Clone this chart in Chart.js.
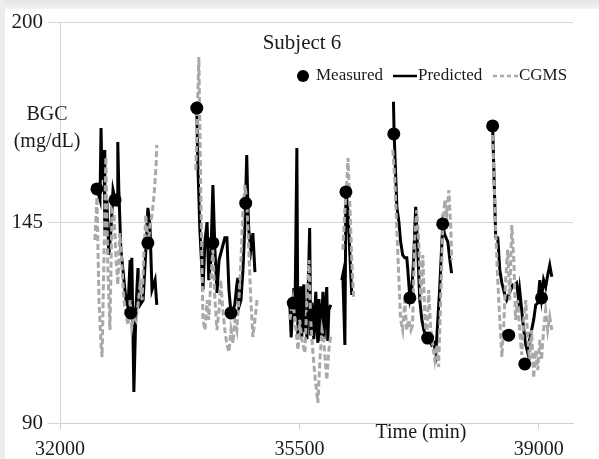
<!DOCTYPE html>
<html>
<head>
<meta charset="utf-8">
<script src="https://cdn.jsdelivr.net/npm/chart.js@4.4.1/dist/chart.umd.min.js"></script>
<style>
  html, body { margin: 0; padding: 0; background: #fff; }
  canvas { display: block; }
</style>
</head>
<body>
<canvas id="bgc-chart" width="599" height="459"></canvas>
<script>
// values (time in min, BGC in mg/dL); null = gap between runs
var measuredT = [32540, 32805, 33035, 33285, 34000, 34235, 34500, 34715, 35410, 35695, 36180, 36880, 37115, 37375, 37595, 38325, 38560, 38795, 39040];
var measuredV = [154.2, 151.2, 120.2, 139.4, 176.4, 139.4, 120.2, 150.3, 122.9, 119.6, 153.4, 169.3, 124.3, 113.3, 144.6, 171.5, 114.1, 106.2, 124.3];

var predT = [
  32510, 32540, 32585, 32600, 32615, 32630, 32645, 32655, 32685, 32715, 32745, 32775, 32805, 32835, 32845, 32860, 32890, 32920, 32965, 32995, 33025, 33035, 33050, 33080, 33110, 33140, 33170, 33215, 33255, 33285, 33315, 33345, 33390, 33415,
  33700,
  34000, 34015, 34045, 34090, 34120, 34150, 34175, 34205, 34235, 34265, 34295, 34325, 34410, 34440, 34470, 34500, 34530, 34555, 34585, 34600, 34615, 34645, 34675, 34705, 34730, 34745, 34760, 34790, 34820, 34850,
  35100,
  35360, 35380, 35405, 35420, 35435, 35463, 35478, 35490, 35505, 35520, 35535, 35550, 35565, 35580, 35595, 35610, 35625, 35650, 35665, 35680, 35695, 35710, 35725, 35740, 35755, 35770, 35785, 35800, 35815, 35830, 35845, 35860, 35875, 35900, 35915, 35930, 35960,
  36040,
  36120, 36135, 36165, 36180, 36210, 36235, 36265,
  36550,
  36875, 36885, 36925, 36955, 36980, 37010, 37040, 37070, 37085, 37115, 37145, 37170, 37200, 37230, 37260, 37290, 37320, 37345, 37375, 37405, 37435, 37465, 37495, 37550, 37595, 37625, 37670, 37700, 37725,
  38000,
  38325, 38370, 38400, 38430, 38460, 38485, 38515, 38530, 38560, 38590, 38620, 38650, 38675, 38705, 38720, 38750, 38780, 38810, 38840, 38865, 38895, 38925, 38955, 38985, 39015, 39040, 39070, 39100, 39130, 39160, 39190
];
var predV = [
  153.9, 154.2, 151.2, 170.9, 156.7, 160.8, 164.9, 142.9, 151.2, 136.1, 142.9, 153.9, 151.2, 149.8, 167.1, 153.9, 137.5, 132.0, 123.7, 121.8, 134.7, 120.2, 135.3, 98.5, 121.0, 132.5, 122.4, 123.7, 137.5, 149.0, 144.3, 126.5, 129.2, 122.4,
  null,
  176.4, 161.3, 142.9, 126.5, 140.2, 145.1, 129.2, 134.7, 155.3, 137.5, 125.7, 134.7, 140.8, 140.8, 126.5, 120.2, 121.0, 122.4, 127.9, 129.8, 121.8, 123.7, 132.0, 145.1, 163.5, 151.2, 142.9, 137.5, 142.1, 131.4,
  null,
  122.4, 113.5, 122.9, 127.0, 119.0, 165.4, 113.0, 124.5, 118.0, 127.5, 113.5, 124.0, 128.0, 115.0, 121.0, 113.0, 124.0, 143.5, 114.0, 123.0, 119.6, 113.0, 121.0, 126.0, 116.0, 112.0, 124.0, 119.6, 112.5, 121.0, 126.0, 113.0, 120.0, 127.3, 112.5, 121.0, 122.4,
  null,
  129.2, 130.6, 111.4, 153.9, 148.4, 137.5, 125.1,
  null,
  178.1, 169.3, 149.3, 145.1, 139.7, 136.1, 135.3, 135.3, 132.0, 124.3, 127.3, 134.7, 149.3, 137.5, 123.7, 118.3, 115.5, 114.1, 113.3, 112.8, 111.4, 111.9, 109.2, 126.5, 144.3, 141.6, 139.7, 134.7, 131.1,
  null,
  171.5, 141.0, 140.8, 132.0, 128.4, 126.5, 124.3, 123.7, 125.1, 126.5, 127.9, 127.9, 128.4, 123.7, 126.5, 121.0, 115.5, 111.4, 109.2, 112.8, 115.5, 118.3, 122.4, 122.9, 129.2, 124.3, 129.2, 127.3, 130.6, 133.3, 130.1
];

var cgmsT = [
  32510, 32540, 32570, 32600, 32615, 32645, 32670, 32700, 32730, 32760, 32790, 32820, 32845, 32875, 32905, 32935, 32965, 32995, 33025, 33050, 33080, 33110, 33140, 33170, 33200, 33225, 33255, 33285, 33315, 33345, 33375, 33405, 33415,
  33700,
  33985, 34030, 34060, 34090, 34120, 34150, 34175, 34205, 34235, 34265, 34295, 34325, 34350, 34380, 34410, 34440, 34470, 34500, 34530, 34555, 34585, 34615, 34645, 34675, 34705, 34730, 34760, 34790, 34820, 34850, 34880,
  35100,
  35360, 35405, 35450, 35480, 35505, 35535, 35580, 35610, 35640, 35665, 35695, 35725, 35770, 35800, 35830, 35855, 35900, 35930, 35960,
  36040,
  36135, 36165, 36195, 36210, 36235, 36265, 36295,
  36550,
  36865, 36895, 36925, 36955, 36980, 37010, 37040, 37070, 37100, 37130, 37155, 37185, 37215, 37245, 37275, 37305, 37335, 37360, 37390, 37420, 37450, 37480, 37510, 37535, 37565, 37595, 37625, 37655, 37685, 37715, 37725,
  38000,
  38325, 38370, 38400, 38430, 38460, 38485, 38515, 38545, 38575, 38605, 38635, 38660, 38690, 38720, 38750, 38780, 38810, 38840, 38865, 38895, 38925, 38955, 38985, 39015, 39040, 39070, 39100, 39130, 39160, 39190
];
var cgmsV = [
  140.2, 152.0, 123.7, 111.4, 108.1, 137.5, 163.0, 132.0, 115.5, 148.4, 147.1, 134.7, 127.9, 142.1, 133.3, 123.7, 119.6, 116.9, 123.7, 116.1, 119.6, 118.3, 122.4, 127.9, 123.7, 136.1, 147.1, 137.5, 144.3, 147.1, 152.5, 160.8, 166.3,
  null,
  159.4, 190.4, 151.2, 118.3, 115.5, 123.7, 118.3, 129.2, 137.5, 123.7, 115.5, 121.0, 129.2, 121.0, 115.5, 111.4, 109.5, 115.5, 111.9, 118.3, 115.5, 123.7, 134.7, 148.4, 155.3, 151.2, 137.5, 123.7, 113.6, 118.3, 123.7,
  null,
  118.3, 123.7, 115.5, 110.0, 118.3, 112.8, 109.2, 123.7, 134.7, 118.3, 110.0, 103.2, 95.5, 107.3, 115.5, 112.8, 101.8, 110.0, 114.1,
  null,
  137.5, 148.4, 156.7, 162.7, 151.2, 134.7, 123.7,
  null,
  164.9, 156.7, 142.9, 129.2, 118.3, 115.5, 123.7, 115.5, 118.3, 115.5, 116.9, 140.2, 148.4, 140.2, 123.7, 136.1, 118.3, 112.8, 126.5, 115.5, 111.4, 107.3, 111.4, 105.4, 123.7, 142.9, 151.2, 147.1, 153.9, 142.9, 134.7,
  null,
  169.0, 142.9, 129.2, 118.3, 108.1, 115.5, 129.2, 137.5, 123.7, 144.3, 134.7, 118.3, 123.7, 115.5, 108.7, 118.3, 123.7, 112.8, 107.3, 115.5, 102.3, 110.0, 104.5, 112.8, 107.3, 115.5, 121.0, 115.5, 119.1, 115.5
];

var xTicks = [32000, 35500, 39000];
var yTicks = [90, 145, 200];

var serif = '"Liberation Serif", "Times New Roman", serif';

function toPoints(ts, vs) {
  var out = [];
  for (var i = 0; i < ts.length; i++) {
    out.push({x: ts[i], y: vs[i]});
  }
  return out;
}

// white sheet with the grey screenshot edge
var frame = {
  id: 'frame',
  beforeDraw: function(chart) {
    var c = chart.ctx;
    c.save();
    c.fillStyle = '#fff';
    c.fillRect(0, 0, chart.width, chart.height);
    var g = c.createLinearGradient(0, 0, 0, 9);
    g.addColorStop(0, '#e4e4e4');
    g.addColorStop(1, '#f3f3f3');
    c.fillStyle = g;
    c.fillRect(0, 0, chart.width, 9);
    c.fillStyle = '#ededed';
    c.fillRect(0, 0, 5, chart.height);
    c.restore();
  }
};

// title, legend and axis titles sit inside the plot like the original
var labels = {
  id: 'labels',
  afterDraw: function(chart) {
    var c = chart.ctx;
    c.save();
    c.fillStyle = '#1a1a1a';
    c.textBaseline = 'middle';
    c.textAlign = 'center';
    c.font = '21px ' + serif;
    c.fillText('Subject 6', 302, 43);
    c.font = '20px ' + serif;
    c.fillText('BGC', 47, 115);
    c.fillText('(mg/dL)', 47, 142);
    c.fillText('Time (min)', 421, 433);

    // legend
    var ly = 76;
    c.textAlign = 'left';
    c.font = '17px ' + serif;
    c.beginPath();
    c.arc(303, ly, 6, 0, Math.PI * 2);
    c.fillStyle = '#000';
    c.fill();
    c.fillStyle = '#1a1a1a';
    c.fillText('Measured', 316, ly);

    c.strokeStyle = '#000';
    c.lineWidth = 2.5;
    c.beginPath();
    c.moveTo(393, ly);
    c.lineTo(417, ly);
    c.stroke();
    c.fillText('Predicted', 418, ly);

    c.strokeStyle = '#a9a9a9';
    c.setLineDash([4, 3]);
    c.beginPath();
    c.moveTo(493, ly);
    c.lineTo(518, ly);
    c.stroke();
    c.setLineDash([]);
    c.fillText('CGMS', 519, ly);
    c.restore();
  }
};

var ctx = document.getElementById('bgc-chart').getContext('2d');
var chart = new Chart(ctx, {
  type: 'line',
  data: {
    datasets: [{
      label: 'Measured',
      data: toPoints(measuredT, measuredV),
      showLine: false,
      pointRadius: 6.5,
      pointBackgroundColor: '#000',
      pointBorderWidth: 0,
      order: 0
    }, {
      label: 'CGMS',
      data: toPoints(cgmsT, cgmsV),
      borderColor: '#a9a9a9',
      borderWidth: 3,
      borderDash: [6, 3],
      pointRadius: 0,
      tension: 0,
      spanGaps: false,
      order: 1
    }, {
      label: 'Predicted',
      data: toPoints(predT, predV),
      borderColor: '#000',
      borderWidth: 3,
      pointRadius: 0,
      tension: 0,
      spanGaps: false,
      order: 2
    }]
  },
  options: {
    responsive: false,
    animation: false,
    layout: { padding: { top: 22, right: 26, left: 0, bottom: 0 } },
    plugins: {
      legend: { display: false },
      tooltip: { enabled: false },
      title: { display: false }
    },
    scales: {
      x: {
        type: 'linear',
        min: 32000,
        max: 39500,
        afterBuildTicks: function(scale) {
          scale.ticks = xTicks.map(function(v) { return {value: v}; });
        },
        afterFit: function(scale) { scale.height = 36; },
        grid: { drawOnChartArea: false, color: '#cfcfcf', tickLength: 6 },
        border: { color: '#cfcfcf' },
        ticks: {
          maxRotation: 0,
          padding: 9,
          color: '#1a1a1a',
          font: { family: serif, size: 20 },
          callback: function(v) { return String(v); }
        }
      },
      y: {
        min: 90,
        max: 200,
        afterBuildTicks: function(scale) {
          scale.ticks = yTicks.map(function(v) { return {value: v}; });
        },
        afterFit: function(scale) { scale.width = 60; },
        grid: { color: '#d6d6d6', tickLength: 12 },
        border: { color: '#d6d6d6' },
        ticks: {
          padding: 5,
          color: '#1a1a1a',
          font: { family: serif, size: 21 }
        }
      }
    }
  },
  plugins: [frame, labels]
});
</script>
</body>
</html>
